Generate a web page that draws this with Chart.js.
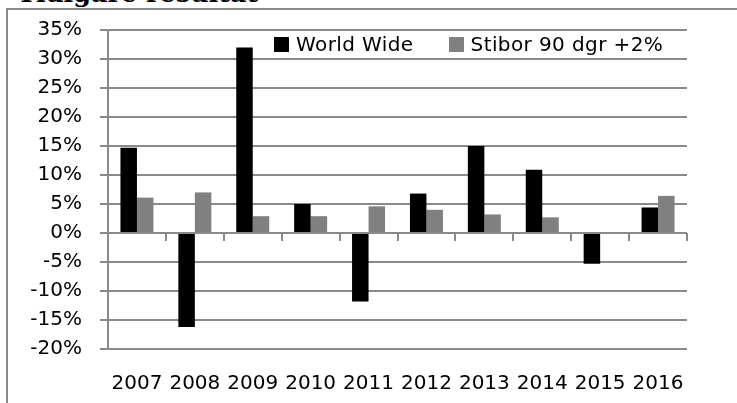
<!DOCTYPE html>
<html>
<head>
<meta charset="utf-8">
<script src="https://cdn.jsdelivr.net/npm/chart.js@4"></script>
<style>
  html, body { margin: 0; padding: 0; background: #fff; overflow: hidden; }
  body { width: 737px; height: 403px; position: relative; }
  #title { position: absolute; left: 17px; top: -19px; font-family: "DejaVu Serif", serif; font-weight: bold; font-size: 25.5px; line-height: 25.5px; color: #000; white-space: nowrap; }
  #frame { position: absolute; left: 6px; top: 8px; width: 800px; height: 500px; border: 2px solid #8a8a8a; box-sizing: border-box; }
  #wrap { position: absolute; left: 0; top: 0; width: 737px; height: 403px; }
  #legend { position: absolute; top: 32px; left: 274px; font-family: "DejaVu Sans", sans-serif; font-size: 20px; line-height: 24px; color: #000; white-space: nowrap; letter-spacing: 0.4px; }
  #legend span.item { display: inline-flex; align-items: center; }
  #legend span.sw { display: inline-block; width: 15px; height: 15px; margin-right: 7px; }
</style>
</head>
<body>
<div id="title">Tidigare resultat</div>
<div id="frame"></div>
<div id="wrap"><canvas id="c"></canvas></div>
<div id="legend"></div>
<script>
const categories = ["2007", "2008", "2009", "2010", "2011", "2012", "2013", "2014", "2015", "2016"];
const worldWide = [14.7, -16.2, 32.0, 5.0, -11.8, 6.8, 15.0, 10.9, -5.3, 4.4];
const stibor = [6.1, 7.0, 2.9, 2.9, 4.6, 4.0, 3.2, 2.7, 0, 6.4];
const seriesNames = ["World Wide", "Stibor 90 dgr +2%"];
const seriesColors = ["#000000", "#808080"];
const yTicks = [-20, -15, -10, -5, 0, 5, 10, 15, 20, 25, 30, 35];

const gridColor = "#8a8a8a";

const zeroTicks = {
  id: "zeroTicks",
  afterDatasetsDraw(chart) {
    const x = chart.scales.x, y = chart.scales.y;
    const ctx = chart.ctx;
    const y0 = y.getPixelForValue(0);
    ctx.save();
    ctx.strokeStyle = gridColor;
    ctx.lineWidth = 2;
    ctx.beginPath();
    for (let i = 1; i <= categories.length; i++) {
      const px = Math.round((x.getPixelForValue(i - 1) + x.getPixelForValue(i)) / 2);
      const xx = i === categories.length ? x.right : px;
      ctx.moveTo(xx, y0);
      ctx.lineTo(xx, y0 + 8);
    }
    ctx.stroke();
    ctx.restore();
  }
};

new Chart(document.getElementById("c"), {
  type: "bar",
  data: {
    labels: categories,
    datasets: [
      { label: seriesNames[0], data: worldWide, backgroundColor: seriesColors[0], borderWidth: 0 },
      { label: seriesNames[1], data: stibor, backgroundColor: seriesColors[1], borderWidth: 0 }
    ]
  },
  options: {
    responsive: true,
    maintainAspectRatio: false,
    animation: false,
    devicePixelRatio: 1,
    layout: { padding: { left: 0, right: 50, top: 29, bottom: 0 } },
    plugins: { legend: { display: false }, tooltip: { enabled: false } },
    datasets: { bar: { categoryPercentage: 0.57, barPercentage: 1.0 } },
    scales: {
      x: {
        grid: { display: false },
        border: { display: false },
        ticks: { color: "#000", padding: 15, maxRotation: 0, autoSkip: false, font: { family: "DejaVu Sans", size: 20 } },
        afterFit(scale) { scale.height = 54; }
      },
      y: {
        min: -20, max: 35,
        afterBuildTicks(scale) { scale.ticks = yTicks.map(v => ({ value: v })); },
        grid: { color: gridColor, lineWidth: 2, tickLength: 8, drawTicks: true },
        border: { display: true, color: gridColor, width: 2 },
        ticks: { color: "#000", padding: 18, font: { family: "DejaVu Sans", size: 20 }, callback: v => v + "%" },
        afterFit(scale) { scale.width = 108; }
      }
    }
  },
  plugins: [zeroTicks]
});

const legendEl = document.getElementById("legend");
seriesNames.forEach((name, i) => {
  const item = document.createElement("span");
  item.className = "item";
  if (i > 0) item.style.marginLeft = "35px";
  const sw = document.createElement("span");
  sw.className = "sw";
  sw.style.background = seriesColors[i];
  item.appendChild(sw);
  item.appendChild(document.createTextNode(name));
  legendEl.appendChild(item);
});
</script>
</body>
</html>
